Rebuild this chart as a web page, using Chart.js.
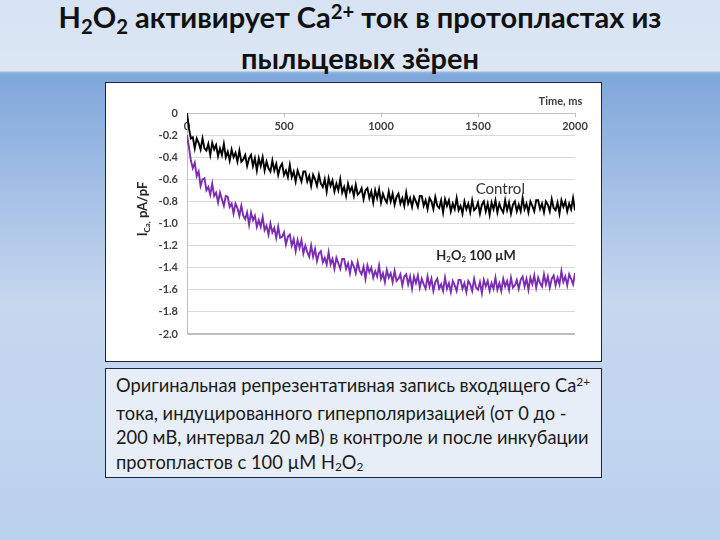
<!DOCTYPE html>
<html>
<head>
<meta charset="utf-8">
<script src="https://cdn.jsdelivr.net/npm/chart.js@4.4.1/dist/chart.umd.min.js"></script>
<style>
  html, body { margin: 0; padding: 0; }
  body {
    width: 720px; height: 540px; position: relative; overflow: hidden;
    background: linear-gradient(to bottom, #d6e3f3 0px, #dde7f4 71px, #9ab8de 72px, #7fa7db 75px, #a4c0e5 190px, #c6d7ef 300px, #c2d5ee 420px, #bad2ec 540px);
    font-family: Lato, "Open Sans", sans-serif;
  }
  #title {
    position: absolute; left: 0; top: -2px; width: 720px; text-align: center;
    font-family: Lato, sans-serif; font-weight: bold; font-size: 29px; line-height: 37px; color: #111;
  }
  .sb { position: relative; top: 0.3em; font-size: 0.7em; }
  .sp { position: relative; top: -0.45em; font-size: 0.7em; }
  #box {
    position: absolute; left: 105px; top: 82px; width: 495px; height: 278px;
    background: #fff; border: 1px solid #1b2540;
  }
  #wrap { position: absolute; left: 0px; top: 1px; width: 495px; height: 277px; }
  #cap {
    position: absolute; left: 105px; top: 368px; width: 485px; height: 100px;
    background: #e8eef7; border: 1px solid #1b2540; padding: 4px 0 4px 10px;
    font-family: Lato, sans-serif; font-size: 18.3px; line-height: 24.5px; color: #1a1a1a;
  }
  #cap .sb { top: 0.25em; font-size: 0.65em; }
  #cap .sp { top: -0.5em; font-size: 0.65em; }
</style>
</head>
<body>
<div id="title">H<span class="sb">2</span>O<span class="sb">2</span> активирует Ca<span class="sp">2+</span> ток в протопластах из<br>пыльцевых зёрен</div>
<div id="box"><div id="wrap"><canvas id="c" width="495" height="277"></canvas></div></div>
<div id="cap">Оригинальная репрезентативная запись входящего Ca<span class="sp">2+</span><br>тока, индуцированного гиперполяризацией (от 0 до -<br>200 мВ, интервал 20 мВ) в контроле и после инкубации<br>протопластов с 100 µM H<span class="sb">2</span>O<span class="sb">2</span></div>
<script>
// Time axis samples (ms)
const timeMs = [
0,10,20,30,40,50,60,70,80,90,100,110,120,130,140,150,160,170,180,190,
200,210,220,230,240,250,260,270,280,290,300,310,320,330,340,350,360,370,380,390,
400,410,420,430,440,450,460,470,480,490,500,510,520,530,540,550,560,570,580,590,
600,610,620,630,640,650,660,670,680,690,700,710,720,730,740,750,760,770,780,790,
800,810,820,830,840,850,860,870,880,890,900,910,920,930,940,950,960,970,980,990,
1000,1010,1020,1030,1040,1050,1060,1070,1080,1090,1100,1110,1120,1130,1140,1150,1160,1170,1180,1190,
1200,1210,1220,1230,1240,1250,1260,1270,1280,1290,1300,1310,1320,1330,1340,1350,1360,1370,1380,1390,
1400,1410,1420,1430,1440,1450,1460,1470,1480,1490,1500,1510,1520,1530,1540,1550,1560,1570,1580,1590,
1600,1610,1620,1630,1640,1650,1660,1670,1680,1690,1700,1710,1720,1730,1740,1750,1760,1770,1780,1790,
1800,1810,1820,1830,1840,1850,1860,1870,1880,1890,1900,1910,1920,1930,1940,1950,1960,1970,1980,1990,
2000];

// Control trace, I_Ca (pA/pF)
const controlValues = [
0.00,
-0.14,-0.23,-0.22,-0.32,-0.23,-0.27,-0.33,-0.23,-0.32,-0.34,
-0.28,-0.38,-0.27,-0.33,-0.29,-0.39,-0.32,-0.38,-0.28,-0.40,
-0.35,-0.43,-0.33,-0.40,-0.36,-0.44,-0.34,-0.44,-0.42,-0.38,
-0.48,-0.41,-0.38,-0.48,-0.41,-0.52,-0.41,-0.48,-0.40,-0.52,
-0.44,-0.50,-0.53,-0.43,-0.52,-0.46,-0.56,-0.49,-0.46,-0.56,
-0.52,-0.58,-0.47,-0.58,-0.53,-0.62,-0.52,-0.57,-0.62,-0.53,
-0.53,-0.62,-0.57,-0.66,-0.56,-0.60,-0.66,-0.56,-0.64,-0.67,
-0.60,-0.71,-0.59,-0.66,-0.61,-0.71,-0.64,-0.70,-0.60,-0.72,
-0.67,-0.75,-0.64,-0.71,-0.67,-0.75,-0.65,-0.74,-0.72,-0.68,
-0.78,-0.70,-0.68,-0.77,-0.71,-0.81,-0.70,-0.77,-0.69,-0.81,
-0.73,-0.78,-0.81,-0.71,-0.80,-0.73,-0.83,-0.76,-0.73,-0.82,
-0.77,-0.84,-0.72,-0.82,-0.77,-0.85,-0.76,-0.80,-0.85,-0.75,
-0.75,-0.84,-0.79,-0.87,-0.77,-0.80,-0.87,-0.76,-0.84,-0.86,
-0.79,-0.90,-0.78,-0.84,-0.79,-0.89,-0.82,-0.87,-0.77,-0.88,
-0.84,-0.91,-0.80,-0.87,-0.82,-0.90,-0.79,-0.88,-0.86,-0.81,
-0.91,-0.83,-0.80,-0.89,-0.82,-0.92,-0.81,-0.87,-0.79,-0.90,
-0.82,-0.87,-0.90,-0.79,-0.88,-0.81,-0.91,-0.83,-0.80,-0.89,
-0.83,-0.89,-0.77,-0.87,-0.82,-0.90,-0.80,-0.84,-0.89,-0.79,
-0.79,-0.87,-0.82,-0.90,-0.80,-0.83,-0.89,-0.78,-0.86,-0.88,
-0.81,-0.91,-0.79,-0.85,-0.80,-0.89,-0.82,-0.87,-0.77,-0.88];

// H2O2 100 uM trace, I_Ca (pA/pF)
const h2o2Values = [
-0.20,
-0.31,-0.43,-0.50,-0.45,-0.57,-0.53,-0.66,-0.60,-0.59,-0.70,
-0.67,-0.74,-0.64,-0.75,-0.72,-0.81,-0.72,-0.78,-0.84,-0.75,
-0.76,-0.85,-0.82,-0.91,-0.82,-0.86,-0.93,-0.84,-0.93,-0.96,
-0.90,-1.01,-0.90,-0.97,-0.93,-1.03,-0.97,-1.03,-0.94,-1.06,
-1.02,-1.10,-1.00,-1.08,-1.04,-1.13,-1.03,-1.13,-1.12,-1.08,
-1.19,-1.12,-1.10,-1.20,-1.14,-1.25,-1.15,-1.22,-1.15,-1.27,
-1.20,-1.26,-1.30,-1.20,-1.30,-1.23,-1.34,-1.27,-1.25,-1.35,
-1.31,-1.37,-1.26,-1.37,-1.32,-1.41,-1.31,-1.36,-1.41,-1.32,
-1.32,-1.41,-1.36,-1.45,-1.35,-1.39,-1.45,-1.35,-1.43,-1.46,
-1.39,-1.50,-1.38,-1.44,-1.40,-1.49,-1.43,-1.48,-1.38,-1.50,
-1.45,-1.53,-1.42,-1.49,-1.45,-1.53,-1.43,-1.52,-1.50,-1.46,
-1.56,-1.48,-1.46,-1.55,-1.48,-1.59,-1.48,-1.54,-1.47,-1.58,
-1.50,-1.55,-1.59,-1.48,-1.57,-1.50,-1.61,-1.53,-1.50,-1.59,
-1.55,-1.61,-1.49,-1.59,-1.54,-1.62,-1.52,-1.56,-1.61,-1.51,
-1.51,-1.59,-1.54,-1.62,-1.52,-1.55,-1.61,-1.50,-1.58,-1.60,
-1.53,-1.63,-1.51,-1.57,-1.52,-1.61,-1.54,-1.59,-1.49,-1.60,
-1.54,-1.61,-1.50,-1.57,-1.52,-1.60,-1.49,-1.58,-1.56,-1.51,
-1.59,-1.51,-1.48,-1.57,-1.50,-1.60,-1.49,-1.55,-1.47,-1.58,
-1.49,-1.54,-1.57,-1.46,-1.55,-1.48,-1.58,-1.50,-1.47,-1.56,
-1.49,-1.55,-1.43,-1.53,-1.48,-1.56,-1.46,-1.50,-1.55,-1.45];

const xTicks = [0, 500, 1000, 1500, 2000];
const yTicks = [0, -0.2, -0.4, -0.6, -0.8, -1.0, -1.2, -1.4, -1.6, -1.8, -2.0];
const seriesNames = ['Control', 'H2O2 100 µM'];

const toPts = (vals) => timeMs.map((t, i) => ({x: t, y: vals[i]}));

const labelsPlugin = {
  id: 'labels',
  afterDatasetsDraw(chart) {
    const ctx = chart.ctx;
    const xs = chart.scales.x, ys = chart.scales.y;
    ctx.save();
    // y axis title with subscript, rotated
    ctx.translate(37, 125);
    ctx.rotate(-Math.PI / 2);
    ctx.fillStyle = '#262626';
    ctx.textBaseline = 'middle';
    const big = 'bold 13px Lato, sans-serif', small = 'bold 8px Lato, sans-serif';
    ctx.font = big; const w1 = ctx.measureText('I').width;
    ctx.font = small; const w2 = ctx.measureText('Ca,').width;
    ctx.font = big; const w3 = ctx.measureText(' pA/pF').width;
    let x0 = -(w1 + w2 + w3) / 2;
    ctx.font = big; ctx.textAlign = 'left'; ctx.fillText('I', x0, 0);
    ctx.font = small; ctx.fillText('Ca,', x0 + w1, 4);
    ctx.font = big; ctx.fillText(' pA/pF', x0 + w1 + w2, 0);
    ctx.restore();

    ctx.save();
    ctx.textBaseline = 'middle';
    ctx.textAlign = 'center';
    ctx.fillStyle = '#404040';
    ctx.font = 'bold 11px Lato, sans-serif';
    ctx.fillText('Time, ms', xs.getPixelForValue(1925), ys.getPixelForValue(0.1));
    ctx.fillStyle = '#333';
    ctx.font = '15px Lato, sans-serif';
    ctx.fillText(seriesNames[0], xs.getPixelForValue(1615), ys.getPixelForValue(-0.69));
    const bf = 'bold 13px Lato, sans-serif', sf = 'bold 8px Lato, sans-serif';
    const parts = [['H', bf, 0], ['2', sf, 4], ['O', bf, 0], ['2', sf, 4], [' 100 µM', bf, 0]];
    let tw = 0;
    parts.forEach(p => { ctx.font = p[1]; p.w = ctx.measureText(p[0]).width; tw += p.w; });
    let px = xs.getPixelForValue(1490) - tw / 2;
    const py = ys.getPixelForValue(-1.29);
    ctx.textAlign = 'left';
    ctx.fillStyle = '#262626';
    parts.forEach(p => { ctx.font = p[1]; ctx.fillText(p[0], px, py + p[2]); px += p.w; });
    ctx.restore();
  }
};

new Chart(document.getElementById('c'), {
  type: 'line',
  data: {
    datasets: [
      { label: seriesNames[0], data: toPts(controlValues), borderColor: '#000000', borderWidth: 1.9, pointRadius: 0, tension: 0 },
      { label: seriesNames[1], data: toPts(h2o2Values), borderColor: '#7a2db3', borderWidth: 1.9, pointRadius: 0, tension: 0 }
    ]
  },
  options: {
    responsive: false,
    animation: false,
    events: [],
    layout: { padding: { left: 41, top: 29, right: 26, bottom: 27 } },
    plugins: { legend: { display: false }, tooltip: { enabled: false } },
    scales: {
      x: {
        type: 'linear', min: 0, max: 2000,
        position: { y: 0 },
        afterBuildTicks: (s) => { s.ticks = xTicks.map(v => ({value: v})); },
        ticks: { font: { family: 'Lato', weight: 'bold', size: 11 }, color: '#404040', padding: 4, maxRotation: 0,
                 callback: (v) => String(v) },
        grid: { drawOnChartArea: false, drawTicks: true, tickLength: 3, color: '#bfbfbf' },
        border: { display: true, color: '#bfbfbf', width: 1 }
      },
      y: {
        min: -2, max: 0,
        afterFit: (s) => { s.width = 40; },
        afterBuildTicks: (s) => { s.ticks = yTicks.map(v => ({value: v})); },
        ticks: {
          font: { family: 'Lato', weight: 'bold', size: 11 }, color: '#404040', padding: 9,
          callback: (v) => (v === 0 ? '0' : Number(v).toFixed(1))
        },
        grid: {
          drawTicks: false,
          color: (c) => (Math.abs(c.tick.value + 2) < 1e-6 ? '#bfbfbf' : '#d9d9d9'),
          lineWidth: (c) => (Math.abs(c.tick.value + 2) < 1e-6 ? 2 : 1)
        },
        border: { display: true, color: '#bfbfbf', width: 1 }
      }
    }
  },
  plugins: [labelsPlugin]
});
</script>
</body>
</html>
